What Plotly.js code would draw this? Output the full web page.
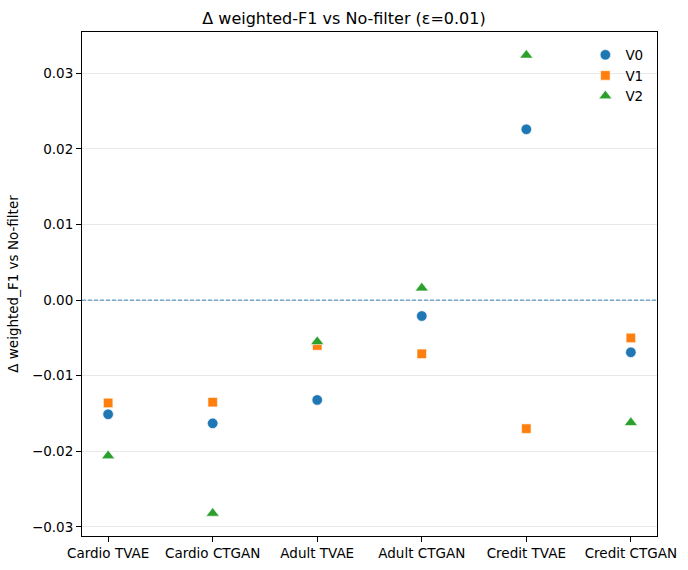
<!DOCTYPE html>
<html>
<head>
<meta charset="utf-8">
<script src="https://cdn.plot.ly/plotly-3.0.1.min.js"></script>
<style>html,body{margin:0;padding:0;background:#fff}#chart{width:688px;height:570px}</style>
</head>
<body>
<div id="chart"></div>
<script>
const categories = ["Cardio TVAE", "Cardio CTGAN", "Adult TVAE", "Adult CTGAN", "Credit TVAE", "Credit CTGAN"];
const v0 = [-0.0151, -0.0163, -0.0132, -0.0021, 0.0226, -0.0069];
const v1 = [-0.0136, -0.0135, -0.0060, -0.0071, -0.0170, -0.0050];
const v2 = [-0.0206, -0.0282, -0.0055, 0.0016, 0.0324, -0.0162];
const yTicks = [-0.03, -0.02, -0.01, 0.00, 0.01, 0.02, 0.03];

const font = "DejaVu Sans, sans-serif";
function series(name, y, color, symbol, size) {
  return {
    type: "scatter", mode: "markers", name: name,
    x: categories, y: y,
    marker: {color: color, symbol: symbol, size: size, line: {color: "#ffffff", width: 0.6}},
    cliponaxis: false
  };
}
const data = [
  series("V0", v0, "#1f77b4", "circle", 10.5),
  series("V1", v1, "#ff7f0e", "square", 9.5),
  series("V2", v2, "#2ca02c", "triangle-up", 11.5)
];
const layout = {
  width: 688, height: 570,
  margin: {l: 82, r: 31, t: 32, b: 34},
  paper_bgcolor: "#fff", plot_bgcolor: "#fff",
  font: {family: font, size: 13.5, color: "#000"},
  title: {text: "Δ weighted-F1 vs No-filter (ε=0.01)", font: {family: font, size: 16, color: "#000"}, x: 0.5, xanchor: "center", y: 0.968, yanchor: "middle"},
  xaxis: {
    type: "category", range: [-0.25, 5.25], showgrid: false, zeroline: false,
    showline: true, linecolor: "#000", linewidth: 1, mirror: true,
    ticks: "outside", ticklen: 5, tickcolor: "#000", tickfont: {size: 13.5}
  },
  yaxis: {
    range: [-0.0312, 0.03547], tickvals: yTicks, tickformat: ".2f",
    showgrid: true, gridcolor: "#e8e8e8", gridwidth: 1, zeroline: false,
    showline: true, linecolor: "#000", linewidth: 1, mirror: true,
    ticks: "outside", ticklen: 5, tickcolor: "#000", tickfont: {size: 13.5},
    title: {text: "Δ weighted_F1 vs No-filter", font: {size: 13.5}, standoff: 10}
  },
  shapes: [{type: "line", xref: "paper", x0: 0, x1: 1, yref: "y", y0: 0, y1: 0,
            line: {color: "#1f77b4", width: 0.9, dash: "4px,2px"}}],
  legend: {x: 0.985, xanchor: "right", y: 0.985, yanchor: "top", bgcolor: "rgba(0,0,0,0)",
           borderwidth: 0, font: {size: 13.5}, itemwidth: 30, tracegroupgap: 0},
  showlegend: true
};
Plotly.newPlot("chart", data, layout, {displayModeBar: false, staticPlot: true});
</script>
</body>
</html>
